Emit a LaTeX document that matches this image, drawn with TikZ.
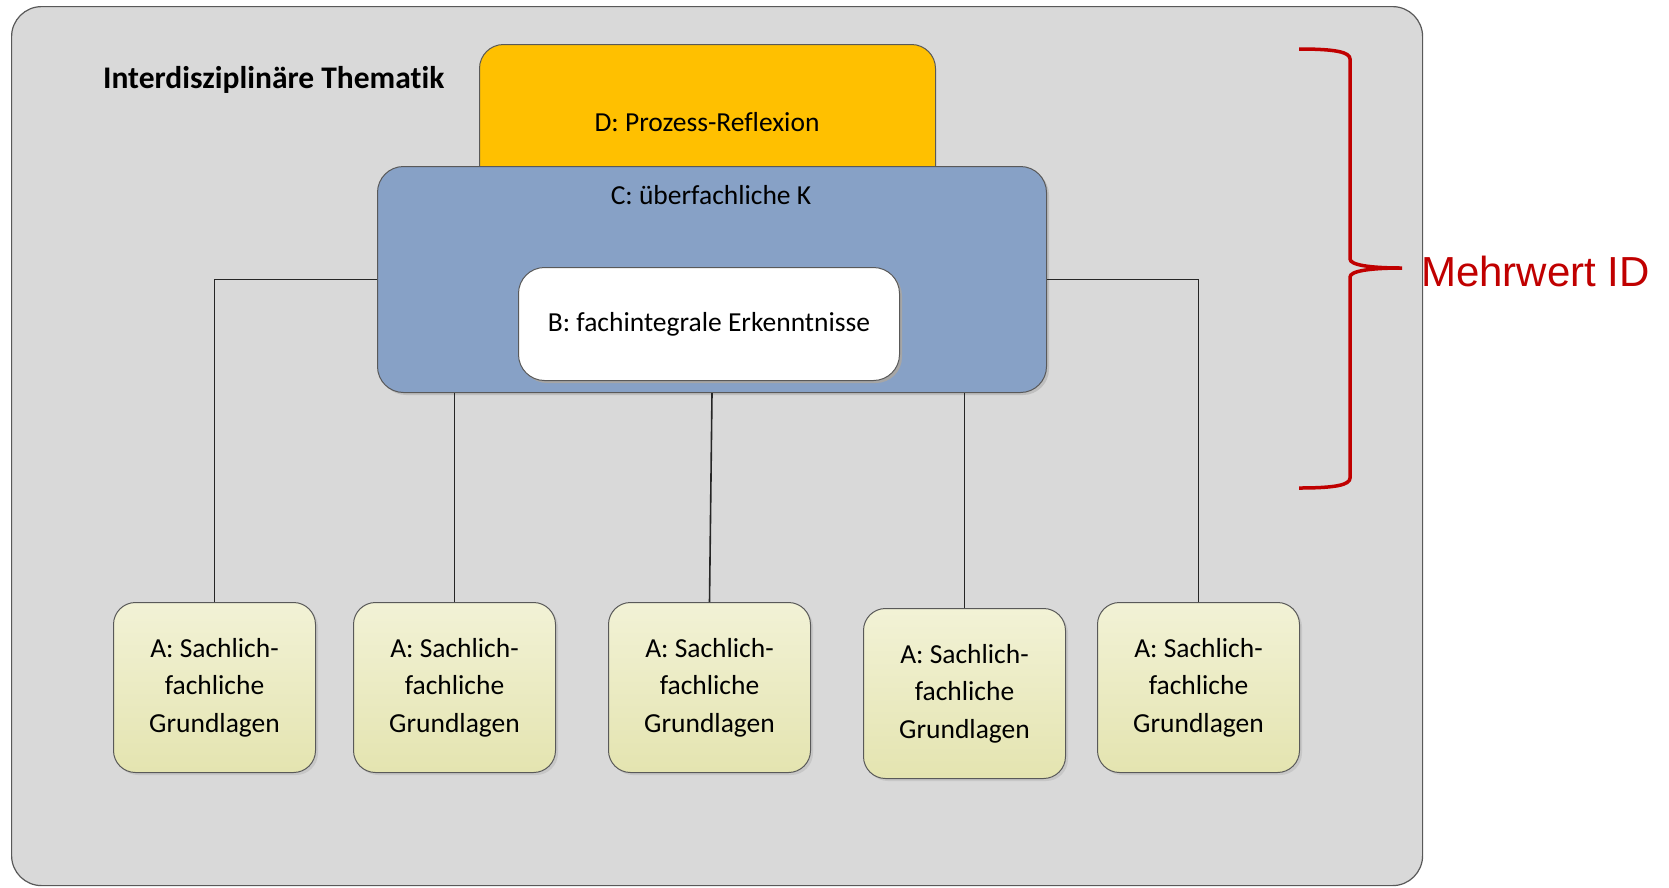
\documentclass[tikz,border=0pt]{standalone}
\usepackage{fontspec}
\setmainfont[Ligatures={NoCommon}]{Carlito}
\newfontfamily\arialfont{Liberation Sans}
\usetikzlibrary{positioning,calc}
\definecolor{framegray}{HTML}{D9D9D9}
\definecolor{edgegray}{HTML}{595959}
\definecolor{dgold}{HTML}{FFC000}
\definecolor{cblue}{HTML}{87A1C6}
\definecolor{atop}{HTML}{F2F2D6}
\definecolor{abot}{HTML}{E4E4B0}
\definecolor{bracered}{HTML}{C00000}
\tikzset{
  outerbox/.style={draw=edgegray, line width=1.2pt, fill=framegray, rounded corners=30pt, anchor=north west, inner sep=0pt},
  dbox/.style={draw=edgegray, line width=1pt, fill=dgold, rounded corners=24pt, anchor=north west, inner sep=0pt},
  cbox/.style={draw=edgegray, line width=1pt, fill=cblue, rounded corners=26pt, anchor=north west, inner sep=0pt},
  bbox/.style={draw=edgegray, line width=1pt, fill=white, rounded corners=26pt, anchor=north west, inner sep=0pt},
  abox/.style={draw=edgegray, line width=1pt, top color=atop, bottom color=abot, rounded corners=22pt, anchor=north west, inner sep=0pt, minimum width=202pt, minimum height=170pt, align=center, font=\fontsize{27.5}{37.5}\selectfont},
  conn/.style={draw=black!85, line width=1.6pt},
  lbl/.style={font=\fontsize{27.5}{33}\selectfont, inner sep=0pt}
}
\begin{document}
\begin{tikzpicture}[x=1pt,y=-1pt]
\useasboundingbox (0,0) rectangle (1669,887);
% outer frame
\node[outerbox, minimum width=1411pt, minimum height=879pt] (frame) at (11,6) {};
\node[anchor=west, inner sep=0pt, font=\fontsize{31.5}{36}\selectfont\bfseries] (title) at (103,80) {Interdisziplinäre Thematik};
% D box
\node[dbox, minimum width=456pt, minimum height=150pt] (D) at (479,44) {};
\node[lbl] (Dtext) at (707,122) {D: Prozess-Reflexion};
% shadow for C
\fill[black!25, rounded corners=26pt] (380,169) rectangle (1049,395);
% C box
\node[cbox, minimum width=669pt, minimum height=226pt] (C) at (377,166) {};
\node[lbl] (Ctext) at (711,195) {C: überfachliche K};
% B box
\fill[black!35, rounded corners=26pt] (521,270) rectangle (902,383);
\node[bbox, minimum width=381pt, minimum height=113pt, font=\fontsize{27.5}{33}\selectfont] (B) at (518,267) {B: fachintegrale Erkenntnisse};
% A boxes
\foreach \xx/\yy in {113/602, 353/602, 608/602, 863/608, 1097/602}{
  \fill[black!22, rounded corners=22pt] (\xx+3,\yy+3) rectangle ++(202,170);
}
\node[abox] (A1) at (113,602) {A: Sachlich-\\fachliche\\Grundlagen};
\node[abox] (A2) at (353,602) {A: Sachlich-\\fachliche\\Grundlagen};
\node[abox] (A3) at (608,602) {A: Sachlich-\\fachliche\\Grundlagen};
\node[abox] (A4) at (863,608) {A: Sachlich-\\fachliche\\Grundlagen};
\node[abox] (A5) at (1097,602) {A: Sachlich-\\fachliche\\Grundlagen};
% connectors
\draw[conn] (A1.north) |- (C.west);
\draw[conn] (A2.north) -- (A2.north |- C.south);
\draw[conn] (C.south) -- (A3.north);
\draw[conn] (A4.north) -- (A4.north |- C.south);
\draw[conn] (A5.north) |- (C.east);
% brace
\coordinate (braceTop) at (1299,49);
\coordinate (braceTip) at (1402,268);
\coordinate (braceBot) at (1299,488);
\draw[bracered, line width=3.5pt] (braceTop) .. controls (1335,49) and (1350,52) .. (1350,59)
  -- (1350,259) .. controls (1350,265) and (1370,268) .. (braceTip)
  .. controls (1370,268) and (1350,271) .. (1350,277)
  -- (1350,478) .. controls (1350,485) and (1335,488) .. (braceBot);
\node[anchor=west, inner sep=0pt, text=bracered, font=\arialfont\fontsize{42}{48}\selectfont] (mehrwert) at (1421,271) {Mehrwert ID};
\end{tikzpicture}
\end{document}
